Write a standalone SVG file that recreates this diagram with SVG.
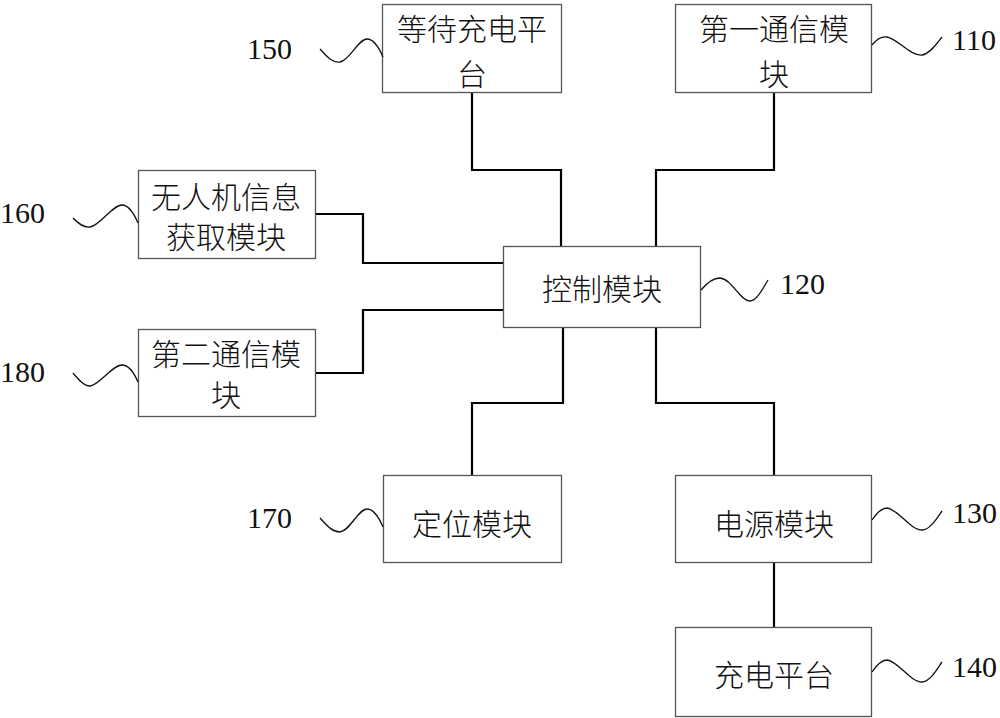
<svg xmlns="http://www.w3.org/2000/svg" width="1000" height="718" viewBox="0 0 1000 718">
<style>
.box{fill:#fff;stroke:#555;stroke-width:1.3}
.t{font-family:"Noto Sans CJK SC","Noto Sans",sans-serif;font-size:30px;fill:#111;text-anchor:middle;dominant-baseline:central;font-weight:300}
.n{font-family:"Liberation Serif",serif;font-size:30px;fill:#111}
.c{fill:none;stroke:#000;stroke-width:2.2}
.w{fill:none;stroke:#111;stroke-width:1.3}
</style>
<rect width="1000" height="718" fill="#fff"/>
<g id="connectors">
<polyline class="c" points="472,93 472,170 561,170 561,246"/>
<polyline class="c" points="774,93 774,170 656,170 656,246"/>
<polyline class="c" points="316,214 363,214 363,263 503,263"/>
<polyline class="c" points="316,373 363,373 363,310 503,310"/>
<polyline class="c" points="563,328 563,403 472,403 472,475"/>
<polyline class="c" points="656,328 656,403 774,403 774,475"/>
<line class="c" x1="774" y1="563" x2="774" y2="627"/>
</g>
<g id="n150">
<rect class="box" x="382.5" y="4.5" width="179" height="88"/>
<text class="t" x="472" y="27">等待充电平</text>
<text class="t" x="472" y="72">台</text>
<path class="w" d="M320,49 C328,58 333,63 340,62 C350,60 358,39 367,39 C375,39 380,50 383,57"/>
<text class="n" x="247" y="59">150</text>
</g>
<g id="n110">
<rect class="box" x="675.5" y="4.5" width="196" height="88"/>
<text class="t" x="774" y="27">第一通信模</text>
<text class="t" x="774" y="72">块</text>
<path class="w" d="M872,45 C876,40 881,36 887,37 C898,39 910,56 922,55 C930,54 937,43 942,37"/>
<text class="n" x="952" y="50">110</text>
</g>
<g id="n160">
<rect class="box" x="138.5" y="170.5" width="177" height="88"/>
<text class="t" x="226" y="195">无人机信息</text>
<text class="t" x="226" y="235">获取模块</text>
<path class="w" d="M73,218 C79,224 84,228 90,227 C100,226 112,205 122,205 C130,205 135,216 138,223"/>
<text class="n" x="0" y="223">160</text>
</g>
<g id="n180">
<rect class="box" x="138.5" y="329.5" width="177" height="87"/>
<text class="t" x="226" y="352">第二通信模</text>
<text class="t" x="226" y="393">块</text>
<path class="w" d="M73,373 C79,380 84,386 90,386 C100,385 112,365 122,365 C130,365 135,375 138,382"/>
<text class="n" x="0" y="382">180</text>
</g>
<g id="n120">
<rect class="box" x="503.5" y="246.5" width="197" height="81"/>
<text class="t" x="602" y="287">控制模块</text>
<path class="w" d="M701,290 C706,284 712,278 720,278 C732,279 740,301 750,301 C757,301 763,288 768,280"/>
<text class="n" x="780" y="294">120</text>
</g>
<g id="n170">
<rect class="box" x="383.5" y="475.5" width="178" height="87"/>
<text class="t" x="472" y="522">定位模块</text>
<path class="w" d="M320,518 C328,527 333,532 340,532 C350,531 358,509 367,509 C375,509 380,520 383,527"/>
<text class="n" x="247" y="528">170</text>
</g>
<g id="n130">
<rect class="box" x="675.5" y="475.5" width="196" height="87"/>
<text class="t" x="774" y="522">电源模块</text>
<path class="w" d="M872,520 C876,514 881,508 887,508 C898,509 910,530 922,530 C930,530 937,518 942,511"/>
<text class="n" x="952" y="523">130</text>
</g>
<g id="n140">
<rect class="box" x="675.5" y="627.5" width="196" height="89"/>
<text class="t" x="774" y="673">充电平台</text>
<path class="w" d="M872,672 C876,666 881,660 887,660 C898,661 910,682 922,682 C930,682 937,669 942,662"/>
<text class="n" x="952" y="677">140</text>
</g>
</svg>
